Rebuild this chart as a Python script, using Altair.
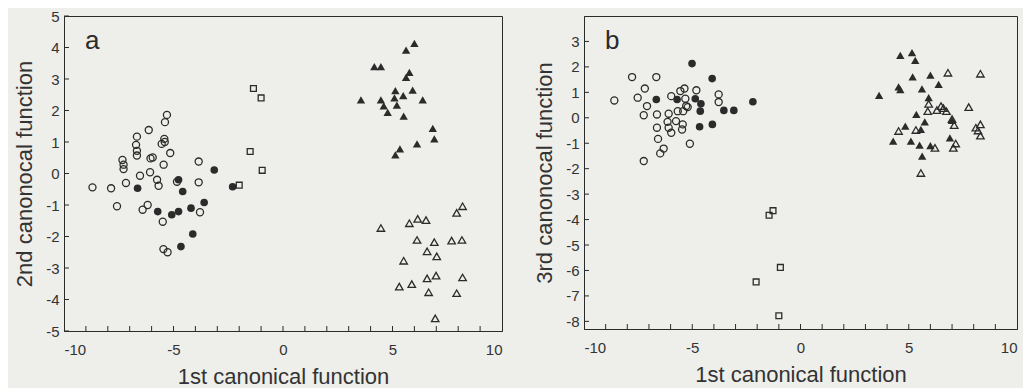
import altair as alt
import pandas as pd

# ---------------- Panel a (1st vs 2nd canonical function) ----------------
a_open_circle_x = [-8.7, -7.85, -7.17, -7.33, -7.28, -7.28, -6.67, -6.71, -6.67, -6.67, -6.53, -6.13,
                   -6.07, -6.05, -5.95, -5.75, -5.68, -5.54, -5.42, -5.39, -5.3, -5.45, -5.15, -3.85,
                   -3.85, -4.84, -5.4, -7.58, -6.41, -6.18, -5.49, -5.46, -5.27, -3.79]
a_open_circle_y = [-0.44, -0.47, -0.3, 0.43, 0.28, 0.14, 1.17, 0.91, 0.72, 0.57, -0.07, 1.38,
                   0.04, 0.48, 0.51, -0.2, -0.39, 0.94, 1.1, 1.63, 1.86, 0.28, 0.65, 0.38,
                   -0.28, -0.26, 1.0, -1.04, -1.15, -1.0, -1.53, -2.4, -2.5, -1.23]
a_filled_circle_x = [-6.64, -4.77, -4.58, -3.14, -2.3, -5.72, -5.08, -4.77, -4.2, -3.6, -4.12, -4.66]
a_filled_circle_y = [-0.47, -0.2, -0.57, 0.11, -0.42, -1.21, -1.31, -1.21, -1.1, -0.92, -1.92, -2.32]
a_square_x = [-1.35, -1.0, -1.5, -0.95, -2.0]
a_square_y = [2.7, 2.4, 0.7, 0.1, -0.37]
a_filled_tri_x = [6.0, 5.62, 4.17, 4.47, 5.77, 5.62, 3.56, 4.47, 4.6, 4.78, 5.13, 5.09, 5.49, 5.2,
                  5.92, 6.38, 5.51, 6.84, 6.91, 6.12, 5.34, 5.13]
a_filled_tri_y = [4.13, 3.92, 3.39, 3.39, 3.21, 3.05, 2.34, 2.34, 2.15, 1.94, 2.63, 2.4, 2.47, 2.17,
                  2.65, 2.34, 1.82, 1.43, 1.1, 0.94, 0.78, 0.59]
a_open_tri_x = [8.2, 7.93, 4.47, 5.77, 6.15, 6.53, 6.12, 6.91, 7.7, 8.17, 6.58, 7.02, 5.51, 6.58,
                6.99, 8.2, 5.31, 5.88, 6.65, 7.93, 6.95]
a_open_tri_y = [-1.04, -1.25, -1.73, -1.58, -1.44, -1.48, -2.11, -2.18, -2.13, -2.11, -2.47, -2.63,
                -2.77, -3.33, -3.24, -3.3, -3.59, -3.51, -3.77, -3.8, -4.6]

# ---------------- Panel b (1st vs 3rd canonical function) ----------------
b_open_circle_x = [-8.6, -7.78, -6.66, -7.19, -7.52, -7.09, -7.24, -6.63, -6.63, -6.58, -6.32, -6.48,
                   -7.24, -5.97, -6.09, -6.14, -6.09, -5.97, -5.75, -5.67, -5.55, -5.36, -5.32, -5.28,
                   -5.42, -5.21, -5.44, -5.47, -5.11, -4.81, -3.78, -3.78]
b_open_circle_y = [0.68, 1.6, 1.6, 1.15, 0.79, 0.46, 0.1, 0.13, -0.39, -0.83, -1.21, -1.4,
                   -1.7, 0.85, 0.16, -0.16, -0.39, -0.59, -0.13, 0.26, 1.05, 1.15, 0.75, 0.46,
                   0.26, 0.42, -0.26, -0.46, -1.02, 1.08, 0.92, 0.62]
b_filled_circle_x = [-5.01, -6.66, -5.7, -4.86, -4.6, -4.63, -4.08, -4.66, -4.07, -3.54, -3.08, -2.2]
b_filled_circle_y = [2.13, 0.72, 0.72, 0.75, 0.55, 0.26, 1.54, -0.35, -0.26, 0.29, 0.29, 0.63]
b_square_x = [-1.27, -1.45, -2.05, -0.93, -1.0]
b_square_y = [-3.65, -3.83, -6.45, -5.88, -7.78]
b_filled_tri_x = [4.61, 5.15, 5.3, 5.18, 6.0, 6.38, 4.53, 4.61, 5.61, 3.63, 5.92, 5.35, 5.74, 7.0,
                  4.84, 5.56, 4.28, 5.1, 5.5, 6.0, 6.9, 5.62]
b_filled_tri_y = [2.45, 2.56, 2.26, 1.61, 1.68, 1.31, 1.21, 1.11, 1.14, 0.88, 0.79, 0.13, -0.16, -0.1,
                  -0.33, -0.46, -0.92, -0.92, -1.07, -1.09, -0.79, -1.51]
b_open_tri_x = [6.81, 8.31, 7.77, 5.92, 5.88, 6.49, 6.74, 6.6, 7.1, 4.53, 5.33, 8.1, 8.31, 8.31,
                8.2, 6.21, 7.06, 7.17, 5.56, 6.3, 7.0]
b_open_tri_y = [1.77, 1.73, 0.42, 0.55, 0.26, 0.46, 0.26, 0.38, -0.29, -0.52, -0.48, -0.39, -0.26, -0.7,
                -0.5, -1.18, -1.18, -1.01, -2.17, 0.3, -0.05]

# ---------------- axes ----------------
x_domain = [-10, 10]
x_label_values = [-10, -5, 0, 5, 10]
x_minor_ticks = [v for v in range(-9, 10)]
a_y_domain = [-5, 5]
a_y_ticks = [v for v in range(-5, 6)]
b_y_domain = [-8.3, 4]
b_y_ticks = [v for v in range(-8, 4)]

INK = "#2b2b2b"
BG = "#eeeeea"
FONT = "Liberation Sans"
LABEL_EXPR = "'' + datum.value"


def panel(groups, y_domain, y_ticks, y_title, letter, w, h):
    xscale = alt.Scale(domain=x_domain, nice=False, zero=False)
    yscale = alt.Scale(domain=y_domain, nice=False, zero=False)
    xaxis = alt.Axis(values=x_label_values, title="1st canonical function",
                     ticks=False, labelPadding=11, titlePadding=9,
                     labelExpr=LABEL_EXPR, labelOverlap=False)
    yaxis = alt.Axis(values=y_ticks, title=y_title, ticks=False,
                     labelPadding=5, titlePadding=9,
                     labelExpr=LABEL_EXPR, labelOverlap=False)

    def X(field):
        return alt.X(field, type="quantitative", scale=xscale, axis=xaxis)

    def Y(field):
        return alt.Y(field, type="quantitative", scale=yscale, axis=yaxis)

    xt = alt.Chart(pd.DataFrame({"x": x_minor_ticks})).mark_rule(
        color=INK, strokeWidth=1).encode(
        x=X("x"), y=alt.value(h), y2=alt.value(h - 5))
    yt = alt.Chart(pd.DataFrame({"y": y_ticks})).mark_rule(
        color=INK, strokeWidth=1).encode(
        y=Y("y"), x=alt.value(0), x2=alt.value(5))

    layers = [xt, yt]
    for xs, ys, shape, filled, size in groups:
        df = pd.DataFrame({"x": xs, "y": ys})
        layers.append(
            alt.Chart(df).mark_point(
                shape=shape, filled=filled, size=size, opacity=1,
                fill=INK if filled else "transparent", stroke=INK,
                strokeWidth=0 if filled else 1.3,
            ).encode(x=X("x"), y=Y("y"))
        )

    label = alt.Chart(pd.DataFrame({"t": [letter]})).mark_text(
        font=FONT, fontSize=26, color=INK, align="left", baseline="alphabetic").encode(
        text="t:N", x=alt.value(21), y=alt.value(33))
    layers.append(label)
    return alt.layer(*layers).properties(width=w, height=h)


groups_a = [
    (a_open_circle_x, a_open_circle_y, "circle", False, 50),
    (a_filled_circle_x, a_filled_circle_y, "circle", True, 58),
    (a_square_x, a_square_y, "square", False, 34),
    (a_filled_tri_x, a_filled_tri_y, "triangle-up", True, 70),
    (a_open_tri_x, a_open_tri_y, "triangle-up", False, 56),
]
groups_b = [
    (b_open_circle_x, b_open_circle_y, "circle", False, 50),
    (b_filled_circle_x, b_filled_circle_y, "circle", True, 58),
    (b_square_x, b_square_y, "square", False, 34),
    (b_filled_tri_x, b_filled_tri_y, "triangle-up", True, 70),
    (b_open_tri_x, b_open_tri_y, "triangle-up", False, 56),
]

pa = panel(groups_a, a_y_domain, a_y_ticks, "2nd canonocal function", "a", 438, 315)
pb = panel(groups_b, b_y_domain, b_y_ticks, "3rd canonocal function", "b", 433, 313)

chart = alt.hconcat(pa, pb, spacing=30).properties(
    background=BG,
    padding={"left": 5, "top": 0, "right": 5, "bottom": 0},
).configure_view(
    stroke=INK, strokeWidth=1, fill=BG
).configure_axis(
    grid=False,
    domainColor=INK,
    domainWidth=1,
    labelFont=FONT,
    labelFontSize=15,
    labelColor="#333333",
    titleFont=FONT,
    titleFontSize=22,
    titleFontWeight="normal",
    titleColor="#333333",
)

chart.save("out.html", embed_options={"renderer": "svg", "actions": False})
